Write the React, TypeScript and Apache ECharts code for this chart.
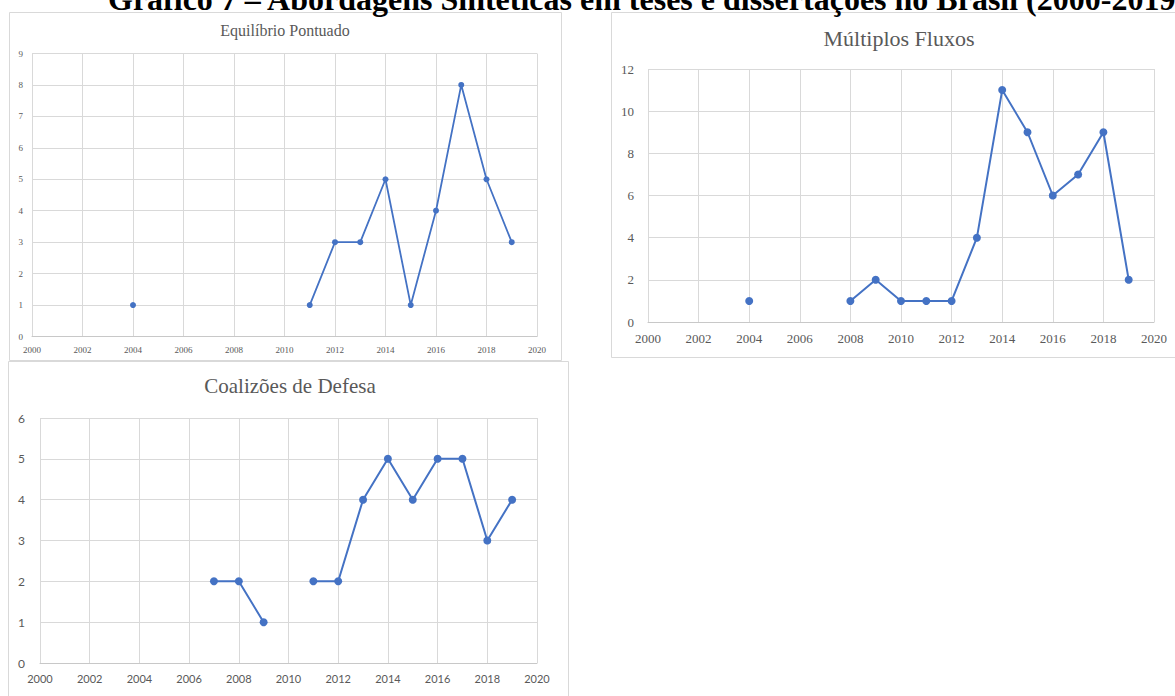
import React, { useEffect, useRef } from "react";
import * as echarts from "echarts";

// Years covered by the three panels (2000–2019)
const years = [
  2000, 2001, 2002, 2003, 2004, 2005, 2006, 2007, 2008, 2009,
  2010, 2011, 2012, 2013, 2014, 2015, 2016, 2017, 2018, 2019,
];

// Number of works per year for each approach (null = no record that year)
const equilibrioPontuado = [
  null, null, null, null, 1, null, null, null, null, null,
  null, 1, 3, 3, 5, 1, 4, 8, 5, 3,
];
const multiplosFluxos = [
  null, null, null, null, 1, null, null, null, 1, 2,
  1, 1, 1, 4, 11, 9, 6, 7, 9, 2,
];
const coalizoesDefesa = [
  null, null, null, null, null, null, null, 2, 2, 1,
  null, 2, 2, 4, 5, 4, 5, 5, 3, 4,
];

const mainTitle =
  "Gráfico 7 – Abordagens Sintéticas em teses e dissertações no Brasil (2000-2019)";
const panelTitles = ["Equilíbrio Pontuado", "Múltiplos Fluxos", "Coalizões de Defesa"];

const LINE = "#4472C4";
const GRID = "#d9d9d9";
const LABEL = "#595959";
const SERIF = "'Liberation Serif', 'Times New Roman', serif";
const SANS = "Lato, 'Open Sans', sans-serif";

function pairs(values: (number | null)[]) {
  return years.map((y, i) => [y, values[i] === null ? "-" : values[i]]);
}

export default function App() {
  const ref = useRef<HTMLDivElement>(null);

  useEffect(() => {
    if (!ref.current) return;
    const chart = echarts.init(ref.current, undefined, { renderer: "svg" });

    const plain = (v: number) => String(v);

    const xAxisBase = (gridIndex: number, font: any) => ({
      type: "value",
      gridIndex,
      min: 2000,
      max: 2020,
      interval: 2,
      axisLine: { show: true, lineStyle: { color: "#c8c8c8", width: 1 } },
      axisTick: { show: false },
      splitLine: { show: true, lineStyle: { color: GRID, width: 1 } },
      axisLabel: { color: LABEL, formatter: plain, ...font },
    });
    const yAxisBase = (gridIndex: number, max: number, interval: number, font: any) => ({
      type: "value",
      gridIndex,
      min: 0,
      max,
      interval,
      axisLine: { show: false },
      axisTick: { show: false },
      splitLine: { show: true, lineStyle: { color: GRID, width: 1 } },
      axisLabel: { color: LABEL, formatter: plain, ...font },
    });

    const f0 = { fontFamily: SERIF, fontSize: 9, margin: 9 };
    const f1x = { fontFamily: SERIF, fontSize: 13, margin: 10 };
    const f1y = { fontFamily: SERIF, fontSize: 13, margin: 14 };
    const f2x = { fontFamily: SANS, fontSize: 11, margin: 10 };
    const f2y = { fontFamily: SANS, fontSize: 12, margin: 15 };

    const seriesBase = (symbolSize: number, width: number) => ({
      type: "line",
      symbol: "circle",
      symbolSize,
      showAllSymbol: true,
      connectNulls: false,
      lineStyle: { color: LINE, width },
      itemStyle: { color: LINE },
    });

    const panelRect = (x: number, y: number, w: number, h: number) => ({
      type: "rect",
      shape: { x, y, width: w, height: h },
      style: { fill: "#ffffff", stroke: GRID, lineWidth: 1 },
      z: -10,
      silent: true,
    });

    const panelTitle = (text: string, x: number, y: number, size: number) => ({
      type: "text",
      x,
      y,
      style: {
        text,
        fill: LABEL,
        fontFamily: SERIF,
        fontSize: size,
        textAlign: "center",
        textVerticalAlign: "middle",
      },
    });

    chart.setOption({
      animation: false,
      backgroundColor: "#ffffff",
      graphic: [
        panelRect(9.5, 12.5, 552, 348),
        panelRect(611.5, 12.5, 580, 345),
        panelRect(8.5, 361.5, 560, 350),
        panelTitle(panelTitles[0], 285, 30, 16),
        panelTitle(panelTitles[1], 899, 38, 22),
        panelTitle(panelTitles[2], 290, 386, 21),
        {
          type: "text",
          x: 108,
          y: 15,
          style: {
            text: mainTitle,
            fill: "#000000",
            fontFamily: SERIF,
            fontWeight: "bold",
            fontSize: 32,
            textAlign: "left",
            textVerticalAlign: "bottom",
          },
          z: 10,
        },
      ],
      grid: [
        { left: 32, top: 53.5, width: 505, height: 283 },
        { left: 648, top: 69, width: 506, height: 253 },
        { left: 40, top: 418, width: 497, height: 245 },
      ],
      xAxis: [xAxisBase(0, f0), xAxisBase(1, f1x), xAxisBase(2, f2x)],
      yAxis: [
        yAxisBase(0, 9, 1, f0),
        yAxisBase(1, 12, 2, f1y),
        yAxisBase(2, 6, 1, f2y),
      ],
      series: [
        { ...seriesBase(6, 1.8), name: panelTitles[0], xAxisIndex: 0, yAxisIndex: 0, data: pairs(equilibrioPontuado) },
        { ...seriesBase(8, 2), name: panelTitles[1], xAxisIndex: 1, yAxisIndex: 1, data: pairs(multiplosFluxos) },
        { ...seriesBase(8, 2), name: panelTitles[2], xAxisIndex: 2, yAxisIndex: 2, data: pairs(coalizoesDefesa) },
      ],
    });

    return () => chart.dispose();
  }, []);

  return (
    <div
      ref={ref}
      style={{ position: "absolute", left: 0, top: 0, width: 1175, height: 696 }}
    />
  );
}
